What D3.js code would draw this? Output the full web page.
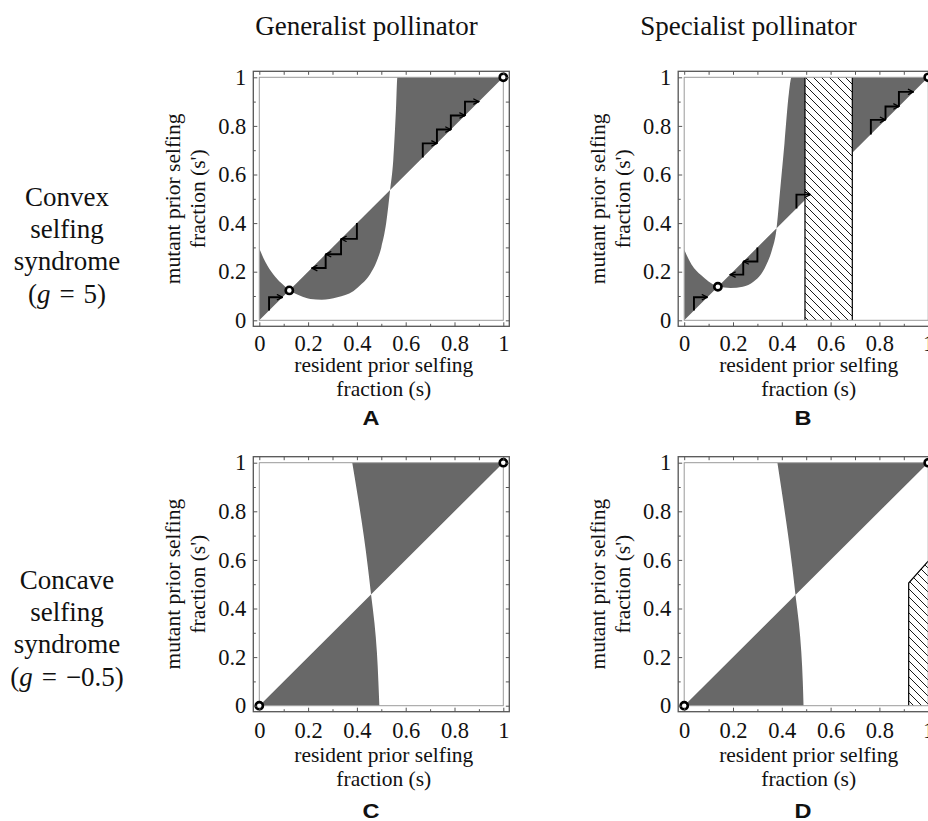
<!DOCTYPE html>
<html>
<head>
<meta charset="utf-8">
<script src="https://cdn.jsdelivr.net/npm/d3@7"></script>
<style>
  html, body { margin: 0; padding: 0; background: #fff; }
  svg { display: block; }
  text { font-family: "Liberation Serif", "Times New Roman", serif; fill: #111; }
  text.letter { font-family: "Liberation Sans", Arial, sans-serif; font-weight: bold; }
</style>
</head>
<body>
<svg id="fig" width="928" height="821"></svg>
<script>
// ---------------- data ----------------
const columnTitles = ["Generalist pollinator", "Specialist pollinator"];
const rowLines = [["Convex", "selfing", "syndrome"], ["Concave", "selfing", "syndrome"]];
const rowG = ["5", "\u22120.5"];
const panelLetters = ["A", "B", "C", "D"];

const majorTicks = [0, 0.2, 0.4, 0.6, 0.8, 1];
const minorTicks = [0.1, 0.3, 0.5, 0.7, 0.9];
const tickLabels = ["0", "0.2", "0.4", "0.6", "0.8", "1"];

const xTitle = ["resident prior selfing", "fraction (s)"];
const yTitle = ["mutant prior selfing", "fraction (s')"];

// invasion boundary s'(s), convex syndrome, generalist pollinator  [s, s']
const boundaryA = [[0, 0.295], [0.025, 0.24], [0.057, 0.19], [0.09, 0.153], [0.123, 0.125],
  [0.17, 0.1], [0.21, 0.088], [0.256, 0.085], [0.32, 0.095], [0.385, 0.12], [0.42, 0.15],
  [0.454, 0.19], [0.48, 0.24], [0.5, 0.3], [0.52, 0.4], [0.536, 0.535], [0.549, 0.659],
  [0.56, 0.865], [0.566, 1.0], [1, 1]];
// invasion boundary, convex syndrome, specialist pollinator
const boundaryB = [[0, 0.29], [0.03, 0.23], [0.07, 0.185], [0.1, 0.16], [0.137, 0.14],
  [0.19, 0.133], [0.24, 0.138], [0.285, 0.16], [0.315, 0.19], [0.34, 0.236], [0.36, 0.29],
  [0.378, 0.373], [0.392, 0.523], [0.411, 0.729], [0.429, 0.934], [0.44, 1.0], [0.495, 1.0]];
const boundaryB2 = [[0.689, 1], [1, 1]];
// invasion boundary s(s'), concave syndrome  [s, s']
const boundaryC = [[0.492, 0], [0.488, 0.1], [0.482, 0.22], [0.472, 0.34], [0.458, 0.458],
  [0.445, 0.57], [0.428, 0.7], [0.407, 0.84], [0.381, 1.0]];
const boundaryD = [[0.489, 0], [0.486, 0.1], [0.48, 0.22], [0.47, 0.34], [0.456, 0.456],
  [0.443, 0.57], [0.426, 0.7], [0.406, 0.84], [0.382, 1.0]];

// regions without a viable population (hatched)
const hatchB = [[0.495, 0], [0.495, 1], [0.689, 1], [0.689, 0]];
const hatchBEdges = [[[0.495, 0], [0.495, 1]], [[0.689, 0], [0.689, 1]]];
const hatchD = [[0.92, 0], [0.92, 0.505], [1.0, 0.595], [1.0, 0]];
const hatchDEdges = [[[0.92, 0], [0.92, 0.505], [1.0, 0.595]]];

// successive trait substitutions along the diagonal
const stepsA = [[0.04, 0.095], [0.40, 0.335, 0.272, 0.215], [0.67, 0.728, 0.785, 0.843, 0.90]];
const stepsB = [[0.04, 0.095], [0.30, 0.242, 0.188], [0.46, 0.517], [0.765, 0.825, 0.88, 0.94]];

// singular strategies
const eqA = [[0.123, 0.123], [1, 1]];
const eqB = [[0.138, 0.138], [1, 1]];
const eqC = [[0, 0], [1, 1]];
const eqD = [[0, 0], [1, 1]];

// ---------------- layout ----------------
const W = 244, H = 243, PAD = 6;
const colX = [259.3, 684.2];
const rowY = [77.3, 462.7];
const rowOff = [
  { tick: 8.5, xl1: 52, xl2: 75.5, letter: 105 },
  { tick: 10, xl1: 56.5, xl2: 80.5, letter: 112.5 }
];
const letterX = [371, 803];
const SHADE = "#686868", FRAME = "#555";

const panels = [
  { col: 0, row: 0, shades: [{ pts: boundaryA, orient: "x" }], hatch: null, edges: [], steps: stepsA, eq: eqA },
  { col: 1, row: 0, shades: [{ pts: boundaryB, orient: "x" }, { pts: boundaryB2, orient: "x" }], hatch: hatchB, edges: hatchBEdges, steps: stepsB, eq: eqB },
  { col: 0, row: 1, shades: [{ pts: boundaryC, orient: "y" }], hatch: null, edges: [], steps: [], eq: eqC },
  { col: 1, row: 1, shades: [{ pts: boundaryD, orient: "y" }], hatch: hatchD, edges: hatchDEdges, steps: [], eq: eqD }
];

const svg = d3.select("#fig");
const defs = svg.append("defs");

const pat = defs.append("pattern").attr("id", "hatch")
  .attr("patternUnits", "userSpaceOnUse").attr("width", 8).attr("height", 8);
pat.append("rect").attr("width", 8).attr("height", 8).attr("fill", "#fff");
pat.append("path").attr("d", "M-2,-2L10,10M-2,6L2,10M6,-2L10,2")
  .attr("stroke", "#000").attr("stroke-width", 0.9);

defs.append("marker").attr("id", "head")
  .attr("viewBox", "0 0 10 10").attr("refX", 9).attr("refY", 5)
  .attr("markerUnits", "userSpaceOnUse").attr("markerWidth", 7).attr("markerHeight", 7)
  .attr("orient", "auto")
  .append("path").attr("d", "M1,1L9,5L1,9")
  .attr("fill", "none").attr("stroke", "#000").attr("stroke-width", 1.8);

// column titles
columnTitles.forEach((t, i) => {
  svg.append("text").attr("x", [366.5, 748.5][i]).attr("y", 35)
    .attr("text-anchor", "middle").style("font-size", "27px").text(t);
});

// row labels
rowLines.forEach((lines, r) => {
  const base = [206, 588.5][r];
  const g = svg.append("g");
  lines.forEach((l, k) => {
    g.append("text").attr("x", 67).attr("y", base + k * 32)
      .attr("text-anchor", "middle").style("font-size", "27px").text(l);
  });
  const last = g.append("text").attr("x", 67).attr("y", base + 3 * 32 + 1)
    .attr("text-anchor", "middle").style("font-size", "27px");
  last.append("tspan").text("(");
  last.append("tspan").style("font-style", "italic").text("g");
  last.append("tspan").text("\u2004=\u2004" + rowG[r] + ")");
});

panels.forEach((p, idx) => {
  const x0 = colX[p.col], y0 = rowY[p.row];
  const off = rowOff[p.row];
  const x = d3.scaleLinear().domain([0, 1]).range([x0, x0 + W]);
  const y = d3.scaleLinear().domain([0, 1]).range([y0 + H, y0]);
  const g = svg.append("g");

  const clipId = "clip" + idx;
  defs.append("clipPath").attr("id", clipId).append("rect")
    .attr("x", x(0)).attr("y", y(1)).attr("width", x(1) - x(0)).attr("height", y(0) - y(1));
  const inner = g.append("g").attr("clip-path", `url(#${clipId})`);

  // invasion regions: between the boundary and the diagonal
  p.shades.forEach(sh => {
    const pts = sh.pts;
    const line = d3.line().x(d => x(d[0])).y(d => y(d[1]))
      .curve(sh.orient === "x" ? d3.curveMonotoneX : d3.curveMonotoneY);
    const endV = sh.orient === "x" ? pts[pts.length - 1][0] : pts[pts.length - 1][1];
    const startV = sh.orient === "x" ? pts[0][0] : pts[0][1];
    const d = line(pts) + `L${x(endV)},${y(endV)}L${x(startV)},${y(startV)}Z`;
    inner.append("path").attr("d", d).attr("fill", SHADE).attr("stroke", "none");
  });

  // hatched regions
  if (p.hatch) {
    const poly = d3.line().x(d => x(d[0])).y(d => y(d[1]));
    inner.append("path").attr("d", poly(p.hatch) + "Z").attr("fill", "url(#hatch)");
    p.edges.forEach(e => {
      inner.append("path").attr("d", poly(e)).attr("fill", "none")
        .attr("stroke", "#000").attr("stroke-width", 1.2);
    });
  }

  // inner plot-range frame
  g.append("rect").attr("x", x(0)).attr("y", y(1))
    .attr("width", x(1) - x(0)).attr("height", y(0) - y(1))
    .attr("fill", "none").attr("stroke", "#9a9a9a").attr("stroke-width", 1);

  // substitution steps
  const stepLine = d3.line().x(d => x(d[0])).y(d => y(d[1]));
  p.steps.forEach(seq => {
    for (let i = 0; i < seq.length - 1; i++) {
      const a = seq[i], b = seq[i + 1];
      g.append("path").attr("d", stepLine([[a, a], [a, b], [b, b]]))
        .attr("fill", "none").attr("stroke", "#000").attr("stroke-width", 1.9)
        .attr("stroke-linejoin", "miter").attr("marker-end", "url(#head)");
    }
  });

  // singular strategies
  g.selectAll("circle.eq").data(p.eq).join("circle").attr("class", "eq")
    .attr("cx", d => x(d[0])).attr("cy", d => y(d[1])).attr("r", 3.6)
    .attr("fill", "#fff").attr("stroke", "#000").attr("stroke-width", 2.6);

  // outer frame with inward ticks
  const L = x(0) - PAD, R = x(1) + PAD, T = y(1) - PAD, B = y(0) + PAD;
  g.append("rect").attr("x", L).attr("y", T).attr("width", R - L).attr("height", B - T)
    .attr("fill", "none").attr("stroke", FRAME).attr("stroke-width", 1.3);

  const fmt = (d) => tickLabels[majorTicks.indexOf(d)];
  const styleAxis = (sel) => {
    sel.select(".domain").remove();
    sel.selectAll(".tick line").attr("stroke", FRAME).attr("stroke-width", 1);
    sel.selectAll("text").style("font-family", '"Liberation Serif","Times New Roman",serif')
      .style("font-size", "22.5px").attr("fill", "#111");
  };
  // bottom
  g.append("g").attr("transform", `translate(0,${B})`)
    .call(d3.axisBottom(x).tickValues(majorTicks).tickFormat(fmt).tickSize(-4).tickPadding(off.tick))
    .call(styleAxis);
  g.append("g").attr("transform", `translate(0,${B})`)
    .call(d3.axisBottom(x).tickValues(minorTicks).tickFormat("").tickSize(-2.5)).call(styleAxis);
  // top
  g.append("g").attr("transform", `translate(0,${T})`)
    .call(d3.axisTop(x).tickValues(majorTicks.concat(minorTicks)).tickFormat("").tickSize(-3.5)).call(styleAxis);
  // left
  g.append("g").attr("transform", `translate(${L},0)`)
    .call(d3.axisLeft(y).tickValues(majorTicks).tickFormat(fmt).tickSize(-4).tickPadding(7))
    .call(styleAxis);
  g.append("g").attr("transform", `translate(${L},0)`)
    .call(d3.axisLeft(y).tickValues(minorTicks).tickFormat("").tickSize(-2.5)).call(styleAxis);
  // right
  g.append("g").attr("transform", `translate(${R},0)`)
    .call(d3.axisRight(y).tickValues(majorTicks.concat(minorTicks)).tickFormat("").tickSize(-3.5)).call(styleAxis);

  // axis titles
  const cx = x(0.5) + 2.5;
  xTitle.forEach((t, k) => {
    g.append("text").attr("x", cx).attr("y", y(0) + (k === 0 ? off.xl1 : off.xl2))
      .attr("text-anchor", "middle").style("font-size", "21.5px").text(t);
  });
  const cy = y(0.5);
  yTitle.forEach((t, k) => {
    const bx = x(0) + (k === 0 ? -79.3 : -54.3);
    g.append("text").attr("transform", `translate(${bx},${cy}) rotate(-90)`)
      .attr("text-anchor", "middle").style("font-size", "21.5px").text(t);
  });

  // panel letter
  g.append("text").attr("class", "letter").attr("x", letterX[p.col]).attr("y", y(0) + off.letter)
    .attr("text-anchor", "middle").style("font-size", "21px")
    .attr("textLength", 17).attr("lengthAdjust", "spacingAndGlyphs")
    .text(panelLetters[idx]);
});
</script>
</body>
</html>
